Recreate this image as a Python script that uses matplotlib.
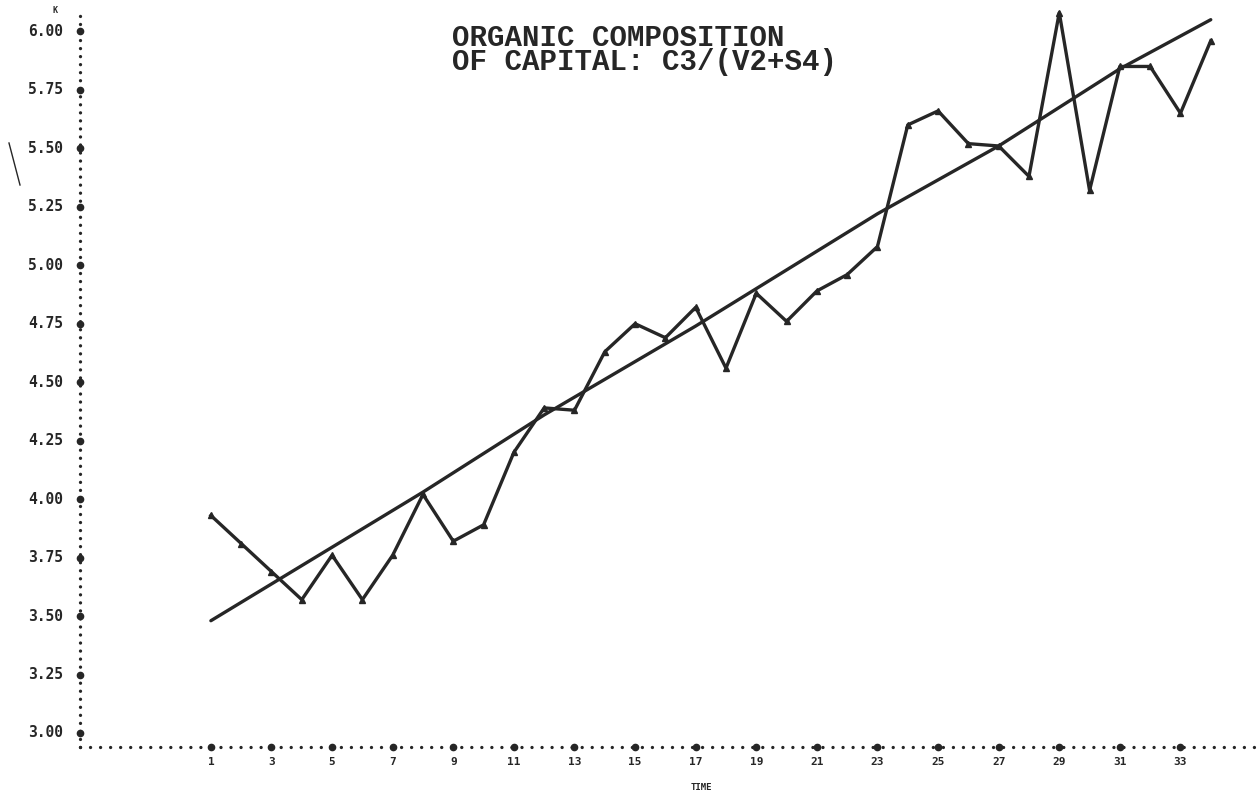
import matplotlib
matplotlib.use("Agg")
import matplotlib.pyplot as plt
from matplotlib.lines import Line2D

# ---- data ----
time = list(range(1, 35))
ratio = [3.93, 3.81, 3.69, 3.57, 3.76, 3.57, 3.76, 4.02, 3.82, 3.89,
         4.20, 4.39, 4.38, 4.63, 4.75, 4.69, 4.82, 4.56, 4.88, 4.76,
         4.89, 4.96, 5.08, 5.60, 5.66, 5.52, 5.51, 5.38, 6.08, 5.32,
         5.85, 5.85, 5.65, 5.96]
trend_time = [1, 8, 12, 17, 23, 27, 31, 34]
trend_vals = [3.48, 4.03, 4.36, 4.74, 5.22, 5.51, 5.84, 6.05]
xticks = list(range(1, 34, 2))
yticks = [3.00, 3.25, 3.50, 3.75, 4.00, 4.25, 4.50, 4.75, 5.00, 5.25, 5.50, 5.75, 6.00]
title_lines = ["ORGANIC COMPOSITION", "OF CAPITAL: C3/(V2+S4)"]
xlabel = "TIME"

W, H = 1257, 797
fig = plt.figure(figsize=(W / 100, H / 100), dpi=100)
ax = fig.add_axes([80 / W, (H - 747) / H, 1175 / W, 739 / H])
ax.set_xlim(-3.32, 35.46)
ax.set_ylim(2.94, 6.10)
for s in ax.spines.values():
    s.set_visible(False)
ax.set_xticks([])
ax.set_yticks([])

ink = "#262626"

# dotted axes
ax.plot([-3.32, -3.32], [2.94, 6.10], color=ink, lw=2.4,
        linestyle=(0, (0.01, 2.4)), dash_capstyle="round", clip_on=False)
ax.plot([-3.32, 35.46], [2.94, 2.94], color=ink, lw=2.4,
        linestyle=(0, (0.01, 3.0)), dash_capstyle="round", clip_on=False)
# tick dots
ax.plot([-3.32] * len(yticks), yticks, "o", color=ink, ms=4.5, clip_on=False)
ax.plot(xticks, [2.94] * len(xticks), "o", color=ink, ms=4.5, clip_on=False)

# tick labels
for v in yticks:
    ax.text(-3.32 - 0.55, v, f"{v:.2f}", ha="right", va="center",
            family="DejaVu Sans Mono", fontweight="bold", fontsize=10.5, color=ink)
for t in xticks:
    ax.text(t, 2.94 - 0.065, str(t), ha="center", va="center",
            family="DejaVu Sans Mono", fontweight="bold", fontsize=8, color=ink)
ax.text(17.2, 2.94 - 0.175, xlabel, ha="center", va="center",
        family="DejaVu Sans Mono", fontweight="bold", fontsize=6.5, color=ink)
ax.text(-3.32 - 0.75, 6.09, "K", ha="right", va="center",
        family="DejaVu Sans Mono", fontweight="bold", fontsize=6, color=ink)

# series
ax.plot(trend_time, trend_vals, color=ink, lw=2.4, solid_capstyle="round",
        solid_joinstyle="round", clip_on=False)
ax.plot(time, ratio, color=ink, lw=2.4, marker="^", ms=4.5,
        solid_joinstyle="round", clip_on=False)

# title (two lines in one text block)
fig.text(452 / W, 1 - 50 / H, "\n".join(title_lines), ha="left", va="center",
         family="Liberation Mono", fontweight="bold", fontsize=21, color=ink,
         linespacing=0.78, multialignment="left")

# scan mark near the y axis
fig.add_artist(Line2D([9 / W, 20 / W], [1 - 143 / H, 1 - 185 / H],
                      color=ink, lw=1.0))

fig.savefig("out.png", dpi=100, facecolor="white")
